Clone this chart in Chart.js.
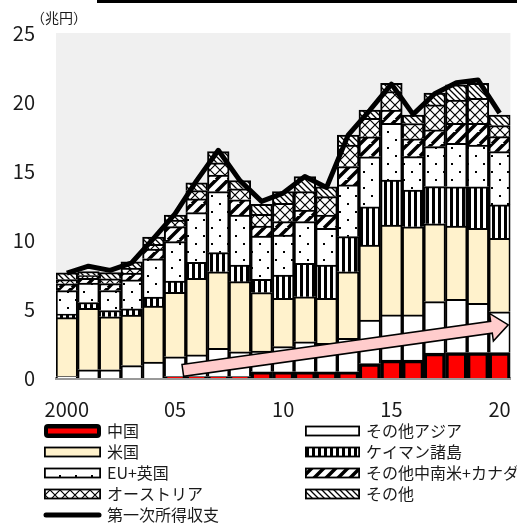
<!DOCTYPE html>
<html>
<head>
<meta charset="utf-8">
<script src="https://cdn.jsdelivr.net/npm/chart.js@4.4.1/dist/chart.umd.min.js"></script>
<style>
    html, body { margin: 0; padding: 0; background: #fff; overflow: hidden; }
    #wrap { position: relative; width: 530px; height: 527px; }
    #topRule { position: absolute; left: 97px; top: 0; width: 440px; height: 3px; background: #000; }
</style>
</head>
<body>
<div id="wrap">
    <div id="topRule"></div>
    <canvas id="incomeChart" width="530" height="527"></canvas>
</div>
<script>
// data (兆円), 2000-2020
const years = [2000, 2001, 2002, 2003, 2004, 2005, 2006, 2007, 2008, 2009, 2010,
               2011, 2012, 2013, 2014, 2015, 2016, 2017, 2018, 2019, 2020];
const tickLabels = ['2000', '', '', '', '', '05', '', '', '', '', '10',
                    '', '', '', '', '15', '', '', '', '', '20'];
const yTicks = [0, 5, 10, 15, 20, 25];

const china       = [0, 0, 0, 0, 0, 0.1, 0.1, 0.1, 0.1, 0.45, 0.45, 0.45, 0.45, 0.45, 1.05, 1.3, 1.3, 1.8, 1.85, 1.85, 1.85];
const otherAsia   = [0.1, 0.6, 0.6, 0.9, 1.15, 1.44, 1.57, 2.05, 1.8, 1.5, 1.82, 2.18, 2.06, 2.43, 3.14, 3.27, 3.27, 3.74, 3.85, 3.56, 2.95];
const usa         = [4.28, 4.45, 3.84, 3.66, 4.06, 4.67, 5.55, 5.55, 5.08, 4.24, 3.51, 3.26, 3.27, 4.82, 5.44, 6.52, 6.39, 5.63, 5.31, 5.44, 5.32];
const cayman      = [0.25, 0.42, 0.45, 0.45, 0.65, 0.82, 1.16, 1.38, 1.21, 0.96, 1.68, 2.42, 2.41, 2.54, 2.77, 3.26, 2.66, 2.7, 2.85, 3.01, 2.42];
const euUk        = [1.7, 1.4, 1.45, 2.1, 2.78, 2.85, 3.6, 4.42, 3.62, 3.14, 2.9, 3.02, 2.66, 3.75, 3.63, 4.11, 2.42, 2.9, 3.14, 3.02, 3.86];
const latAmCanada = [0.5, 0.35, 0.5, 0.5, 0.7, 1.09, 1.0, 1.2, 1.1, 0.72, 0.97, 0.84, 0.96, 1.33, 1.45, 0.96, 1.3, 1.21, 1.46, 1.58, 1.09];
const austria     = [0.3, 0.2, 0.35, 0.35, 0.35, 0.48, 0.6, 0.9, 0.8, 0.85, 1.33, 1.33, 1.33, 1.56, 1.33, 1.33, 1.1, 1.81, 1.68, 1.81, 0.8];
const others      = [0.5, 0.3, 0.45, 0.45, 0.52, 0.36, 0.57, 0.8, 0.6, 0.73, 0.84, 1.09, 0.72, 0.73, 0.6, 0.6, 0.62, 0.85, 1.1, 1.08, 0.77];
const primaryIncome = [7.6, 8.1, 7.8, 8.35, 10.1, 11.9, 14.3, 16.5, 14.3, 12.8, 13.4, 14.6, 13.8, 17.6, 19.4, 21.3, 19.1, 20.6, 21.4, 21.6, 19.2];

// trend arrow, in category index / value units
const arrowFrom = { x: 5.36, y: 0.55 };
const arrowTo = { x: 20.4, y: 3.85 };

const FONT = '"Noto Sans CJK JP", "Noto Sans", sans-serif';

function makePattern(w, h, draw) {
    const c = document.createElement('canvas');
    c.width = w;
    c.height = h;
    const g = c.getContext('2d');
    g.fillStyle = '#fff';
    g.fillRect(0, 0, w, h);
    g.fillStyle = '#000';
    g.strokeStyle = '#000';
    draw(g);
    return g.createPattern(c, 'repeat');
}

const dotPattern = makePattern(16, 16, g => {
    g.fillRect(3, 3, 2, 2);
    g.fillRect(11, 11, 2, 2);
});
const stripePattern = makePattern(6, 2, g => {
    g.fillRect(0, 0, 3, 2);
});
const slashPattern = makePattern(12, 12, g => {
    g.lineWidth = 3.5;
    g.beginPath();
    for (let k = -12; k <= 24; k += 12) {
        g.moveTo(k - 12, 12);
        g.lineTo(k + 12, -12);
    }
    g.stroke();
});
const crossPattern = makePattern(10, 10, g => {
    g.lineWidth = 1.2;
    g.beginPath();
    g.moveTo(0, 0); g.lineTo(10, 10);
    g.moveTo(10, 0); g.lineTo(0, 10);
    g.stroke();
});
const hatchPattern = makePattern(6, 6, g => {
    g.lineWidth = 1.3;
    g.beginPath();
    g.moveTo(-1, -1); g.lineTo(7, 7);
    g.moveTo(-1, 5); g.lineTo(1, 7);
    g.moveTo(5, -1); g.lineTo(7, 1);
    g.stroke();
});

function barSet(label, data, fill, extra) {
    return Object.assign({
        type: 'bar',
        label: label,
        data: data,
        backgroundColor: fill,
        borderColor: '#000',
        borderWidth: 2,
        stack: 'regions',
        order: 1
    }, extra || {});
}

const plotBackground = {
    id: 'plotBackground',
    beforeDraw(chart) {
        const a = chart.chartArea;
        const ctx = chart.ctx;
        ctx.save();
        ctx.fillStyle = '#f0f0f0';
        ctx.fillRect(a.left, a.top, a.right - a.left, a.bottom - a.top);
        ctx.restore();
    }
};

const trendArrow = {
    id: 'trendArrow',
    afterDatasetsDraw(chart) {
        const xs = chart.scales.x, ys = chart.scales.y;
        const x0 = xs.getPixelForValue(arrowFrom.x), y0 = ys.getPixelForValue(arrowFrom.y);
        const x1 = xs.getPixelForValue(arrowTo.x), y1 = ys.getPixelForValue(arrowTo.y);
        const len = Math.hypot(x1 - x0, y1 - y0);
        const ang = Math.atan2(y1 - y0, x1 - x0);
        const body = 6, head = 14, headLen = 17;
        const ctx = chart.ctx;
        ctx.save();
        ctx.translate(x0, y0);
        ctx.rotate(ang);
        ctx.beginPath();
        ctx.moveTo(0, -body);
        ctx.lineTo(len - headLen, -body);
        ctx.lineTo(len - headLen, -head);
        ctx.lineTo(len, 0);
        ctx.lineTo(len - headLen, head);
        ctx.lineTo(len - headLen, body);
        ctx.lineTo(0, body);
        ctx.closePath();
        ctx.fillStyle = '#ffcccc';
        ctx.fill();
        ctx.lineWidth = 1.5;
        ctx.strokeStyle = '#000';
        ctx.stroke();
        ctx.restore();
    }
};

const unitLabel = {
    id: 'unitLabel',
    afterDraw(chart) {
        const ctx = chart.ctx;
        ctx.save();
        ctx.font = '14px ' + FONT;
        ctx.fillStyle = '#1a1a1a';
        ctx.textBaseline = 'middle';
        ctx.fillText('（兆円）', 31, 18);
        ctx.restore();
    }
};

// two column legend under the axis
const gridLegend = {
    id: 'gridLegend',
    afterDraw(chart) {
        const ctx = chart.ctx;
        const cols = [{ x: 44, w: 57 }, { x: 305, w: 55 }];
        const rowTop = 431, rowGap = 21;
        ctx.save();
        ctx.font = '16px ' + FONT;
        ctx.textBaseline = 'middle';
        chart.data.datasets.forEach((ds, i) => {
            const col = ds.type === 'line' ? cols[0] : cols[i % 2];
            const row = Math.floor(i / 2);
            const cy = rowTop + row * rowGap;
            if (ds.type === 'line') {
                ctx.strokeStyle = '#000';
                ctx.lineWidth = 5;
                ctx.lineCap = 'round';
                ctx.beginPath();
                ctx.moveTo(col.x + 2, cy);
                ctx.lineTo(col.x + col.w - 2, cy);
                ctx.stroke();
            } else if (ds.borderWidth > 2) {
                ctx.fillStyle = '#000';
                ctx.beginPath();
                ctx.roundRect(col.x, cy - 7, col.w, 14, 4);
                ctx.fill();
                ctx.fillStyle = ds.backgroundColor;
                ctx.fillRect(col.x + 4, cy - 2.5, col.w - 8, 5);
            } else {
                ctx.fillStyle = ds.backgroundColor;
                ctx.fillRect(col.x, cy - 5, col.w, 10);
                ctx.strokeStyle = '#000';
                ctx.lineWidth = 1.8;
                ctx.strokeRect(col.x + 0.9, cy - 4.5, col.w - 1.8, 9);
            }
            ctx.fillStyle = '#1a1a1a';
            ctx.fillText(ds.label, col.x + col.w + 6, cy);
        });
        ctx.restore();
    }
};

document.addEventListener('DOMContentLoaded', function() {
    const ctx = document.getElementById('incomeChart').getContext('2d');
    new Chart(ctx, {
        data: {
            labels: years,
            datasets: [
                barSet('中国', china, '#ff0000', { borderWidth: 3.5 }),
                barSet('その他アジア', otherAsia, '#ffffff'),
                barSet('米国', usa, '#fff2cc'),
                barSet('ケイマン諸島', cayman, stripePattern),
                barSet('EU+英国', euUk, dotPattern),
                barSet('その他中南米+カナダ', latAmCanada, slashPattern),
                barSet('オーストリア', austria, crossPattern),
                barSet('その他', others, hatchPattern),
                {
                    type: 'line',
                    label: '第一次所得収支',
                    data: primaryIncome,
                    borderColor: '#000',
                    borderWidth: 5,
                    borderJoinStyle: 'round',
                    pointRadius: 0,
                    tension: 0,
                    order: 0
                }
            ]
        },
        options: {
            responsive: false,
            animation: false,
            devicePixelRatio: 1,
            layout: { padding: { top: 33, right: 12, left: 0, bottom: 0 } },
            datasets: { bar: { categoryPercentage: 1, barPercentage: 1 } },
            plugins: {
                legend: { display: false },
                tooltip: { enabled: false }
            },
            scales: {
                x: {
                    stacked: true,
                    grid: { display: false, drawTicks: false },
                    border: { display: true, color: '#999', width: 3 },
                    afterFit: scale => { scale.height = 149; },
                    ticks: {
                        autoSkip: false,
                        maxRotation: 0,
                        padding: 19,
                        color: '#1a1a1a',
                        font: { family: FONT, size: 20 },
                        callback: (v, i) => tickLabels[i]
                    }
                },
                y: {
                    stacked: true,
                    min: 0,
                    max: 25,
                    grid: { display: false, drawTicks: false },
                    border: { display: false },
                    afterFit: scale => { scale.width = 56; },
                    afterBuildTicks: scale => { scale.ticks = yTicks.map(v => ({ value: v })); },
                    ticks: {
                        padding: 21,
                        color: '#1a1a1a',
                        font: { family: FONT, size: 20 }
                    }
                }
            }
        },
        plugins: [plotBackground, trendArrow, unitLabel, gridLegend]
    });
});
</script>
</body>
</html>
